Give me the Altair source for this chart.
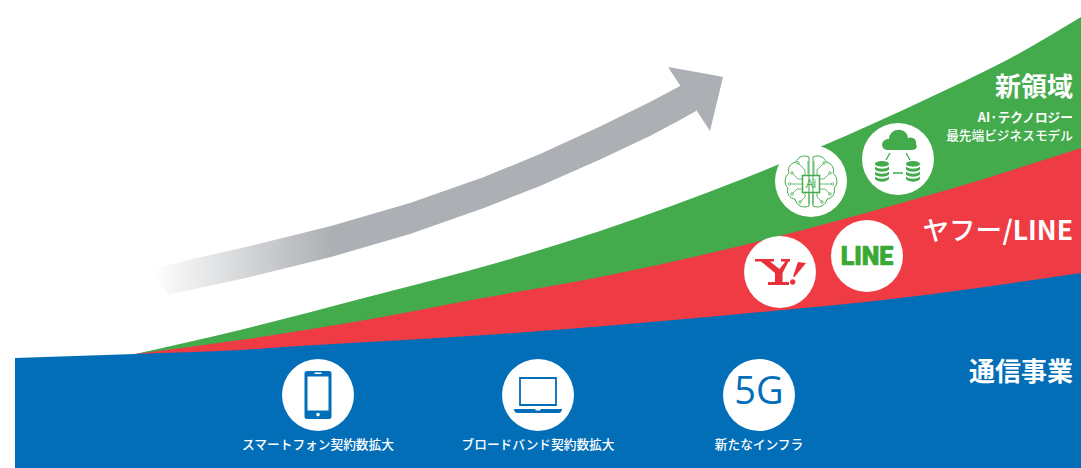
import altair as alt
import pandas as pd

BLUE = "#036EB8"
RED = "#EF3B44"
GREEN = "#43AB4B"
GREY = "#ACAFB3"
JP = "Noto Sans CJK JP"

# Upper edge of each revenue band across the timeline
blue_x = [15, 135, 240, 300, 500, 640, 730, 900, 1081]
blue_top = [358, 354, 350, 346, 334, 323, 315, 298, 273]
red_x = [135, 240, 360, 477, 600, 740, 840, 940, 1081]
red_top = [354, 340, 321, 299, 277, 246, 220, 192, 148]
green_x = [135, 240, 360, 500, 600, 740, 850, 950, 1007, 1081]
green_top = [354, 330, 299, 262, 231, 180, 134, 88, 60, 17]

# Growth arrow: shaft edges and head outline
shaft_x = [153, 167, 250, 331, 410, 484, 540, 599, 650, 680, 696]
shaft_top = [268, 265, 246, 226, 203, 177, 154, 127, 102, 86, 77]
shaft_bottom = [268, 295, 277, 257, 234, 208, 186, 160, 136, 120, 111]
head_x = [668, 710, 723]
head_top = [67, 74.6, 77]
head_bottom = [67, 131, 77]

# White badges
badge_x = [318, 538, 759, 811, 898, 780, 867]
badge_y = [395, 395, 395, 181, 159, 272, 256]

# Text labels
labels = ["新領域", "AI·テクノロジー", "最先端ビジネスモデル", "/LINE", "通信事業"]
label_y = [88, 118, 136, 232, 373]
label_size = [26, 12.7, 12.7, 26.5, 26]
label_weight = [700, 700, 500, 700, 700]
captions = ["スマートフォン契約数拡大", "ブロードバンド契約数拡大", "新たなインフラ"]
caption_x = [318, 538, 759]
caption_y = [445, 445, 445]

X = alt.X("x:Q", scale=alt.Scale(domain=[0, 1081], nice=False, zero=False), axis=None)
Y = alt.Y("y:Q", scale=alt.Scale(domain=[468, 0], nice=False, zero=False), axis=None)


def band(xs, tops, color, bottom=468):
    df = pd.DataFrame({"x": xs, "y": tops, "y2": [bottom] * len(xs)})
    return alt.Chart(df).mark_area(color=color, interpolate="monotone").encode(
        x=X, y=Y, y2="y2:Q"
    )


def glyph(path, cx, cy, color, filled=True, width=1.0):
    """Icon path written in pixel offsets; size 4 makes the symbol unit one pixel."""
    df = pd.DataFrame({"x": [cx], "y": [cy]})
    kw = dict(shape=path, size=4, opacity=1)
    if filled:
        mark = alt.Chart(df).mark_point(filled=True, color=color, strokeWidth=0, **kw)
    else:
        mark = alt.Chart(df).mark_point(filled=False, color=color, strokeWidth=width, **kw)
    return mark.encode(x=X, y=Y)


def text(value, cx, cy, size, color="white", weight=700, align="center", font=JP, **extra):
    df = pd.DataFrame({"x": [cx], "y": [cy], "t": [value]})
    return alt.Chart(df).mark_text(
        fontSize=size, color=color, fontWeight=weight, align=align, baseline="middle", font=font, **extra
    ).encode(x=X, y=Y, text="t:N")


def ring(x, y, r=1.3):
    return f"M{x - r},{y} A{r},{r} 0 1 0 {x + r},{y} A{r},{r} 0 1 0 {x - r},{y} Z "


layers = []

# Growth arrow with a fading tail
shaft_df = pd.DataFrame({"x": shaft_x, "y": shaft_top, "y2": shaft_bottom})
tail = alt.Gradient(
    gradient="linear",
    x1=0, x2=1, y1=0, y2=0,
    stops=[
        alt.GradientStop(color="#FFFFFF", offset=0),
        alt.GradientStop(color=GREY, offset=0.33),
        alt.GradientStop(color=GREY, offset=1),
    ],
)
layers.append(alt.Chart(shaft_df).mark_area(color=tail).encode(x=X, y=Y, y2="y2:Q"))
head_df = pd.DataFrame({"x": head_x, "y": head_top, "y2": head_bottom})
layers.append(alt.Chart(head_df).mark_area(color=GREY).encode(x=X, y=Y, y2="y2:Q"))

# Revenue bands, back to front
layers.append(band(green_x, green_top, GREEN))
layers.append(band(red_x, red_top, RED))
layers.append(band(blue_x, blue_top, BLUE))

# Badges
badge_df = pd.DataFrame({"x": badge_x, "y": badge_y})
layers.append(alt.Chart(badge_df).mark_point(
    filled=True, color="white", size=5184, opacity=1, strokeWidth=0, shape="circle"
).encode(x=X, y=Y))

# Smartphone
phone = (
    "M-11,-24 H11 Q13.5,-24 13.5,-21.5 V21.5 Q13.5,24 11,24 H-11 Q-13.5,24 -13.5,21.5 V-21.5 Q-13.5,-24 -11,-24 Z"
)
layers.append(glyph(phone, 318, 395, BLUE))
layers.append(glyph("M-10.5,-18.5 H10.5 V15.5 H-10.5 Z M-3.5,-22.5 H3.5 V-21 H-3.5 Z", 318, 395, "white"))
layers.append(glyph("M-1.8,19.5 A1.8,1.8 0 1 0 1.8,19.5 A1.8,1.8 0 1 0 -1.8,19.5 Z", 318, 395, "white"))

# Laptop
layers.append(glyph("M-18,-17 H18 V10 H-18 Z", 538, 395, BLUE, filled=False, width=1.8))
layers.append(glyph("M-24,14 H-3 L-2,15.5 H2 L3,14 H24 Q24,17 21,18 H-21 Q-24,17 -24,14 Z", 538, 395, BLUE))

# 5G
layers.append(text("5G", 759, 393, 38, color=BLUE, weight=400, font="Open Sans"))

# AI brain
brain = (
    "M-2,-27 C-8,-30 -14,-26 -15,-22 C-21,-21 -24,-15 -22,-11 C-27,-7 -27,1 -23,4 C-25,9 -21,15 -16,15 "
    "C-15,21 -8,25 -2,22 Z "
    "M2,-27 C8,-30 14,-26 15,-22 C21,-21 24,-15 22,-11 C27,-7 27,1 23,4 C25,9 21,15 16,15 "
    "C15,21 8,25 2,22 Z"
)
circuits = (
    "M-6,-9 V-14 L-12,-20 M-3,-9 V-23 M3,-9 V-23 M6,-9 V-14 L12,-20 "
    "M-9,-5 H-13 L-18,-10 M9,-5 H13 L18,-10 "
    "M-9,0 H-20 M9,0 H20 "
    "M-9,5 H-14 L-18,9 M9,5 H14 L18,9 "
    "M-6,9 V13 L-10,17 M6,9 V13 L10,17 "
    "M-2,9 V20 M2,9 V20 "
)
terminals = "".join(
    ring(px, py)
    for px, py in [
        (-13, -21), (13, -21), (-19, -11), (19, -11), (-21.5, 0), (21.5, 0),
        (-19, 10), (19, 10), (-11, 18), (11, 18),
    ]
)
layers.append(glyph(brain, 811, 184, GREEN, filled=False, width=1))
layers.append(glyph(circuits + terminals, 811, 184, GREEN, filled=False, width=0.8))
layers.append(glyph("M-8.5,-8.5 H8.5 V8.5 H-8.5 Z", 811, 184, GREEN, filled=False, width=1.5))
layers.append(text("Ai", 811, 183.5, 12, color=GREEN, weight=400, font="Open Sans"))

# Cloud and databases
layers.append(glyph(
    "M-10,-9 C-18,-9 -18,-20 -9,-20 C-8,-32 9,-32 10,-21 C15,-23 19,-19 18,-15 C20,-12 18,-9 14,-9 Z",
    898, 159, GREEN,
))
layers.append(glyph("M-8,-6 L-12,1 M8,-6 L12,1 M-5,14 H5", 898, 159, GREEN, filled=False, width=1.4))
cylinder = (
    "M-7,-8 C-7,-12 7,-12 7,-8 C7,-4.5 -7,-4.5 -7,-8 Z "
    "M-7,-5.5 C-4,-2.5 4,-2.5 7,-5.5 V-2.5 C4,0.5 -4,0.5 -7,-2.5 Z "
    "M-7,-0.5 C-4,2.5 4,2.5 7,-0.5 V2.5 C4,5.5 -4,5.5 -7,2.5 Z "
    "M-7,4.5 C-4,7.5 4,7.5 7,4.5 V7 C4,10.5 -4,10.5 -7,7 Z"
)
layers.append(glyph(cylinder, 882, 172, GREEN))
layers.append(glyph(cylinder, 913, 172, GREEN))

# Y!
yahoo = (
    "M-25,-13 H-6 V-10.5 H-10 L-0.5,-3 L5.5,-10.5 H1 V-13 H10 V-10.5 H8.5 L2.5,1 V10 H9 V13 H-12 V10 H-5 V1 "
    "L-19,-10.5 H-25 Z "
    "M18,-10 L26,-9 L14.5,5 L13,4.5 Z "
    "M10,10 A2.7,2.7 0 1 0 15.4,10 A2.7,2.7 0 1 0 10,10 Z"
)
layers.append(glyph(yahoo, 780, 272, "#E8303A"))

# LINE
layers.append(text("LINE", 867, 256.5, 25, color="#3AAA35", weight=900, font="Roboto",
                   stroke="#3AAA35", strokeWidth=0.7))

# Right-hand labels
for value, cy, size, weight in zip(labels, label_y, label_size, label_weight):
    layers.append(text(value, 1073, cy, size, weight=weight, align="right"))
layers.append(text("ヤフー", 1002, 232, 26.5, weight=500, align="right"))

# Captions under the blue badges
for value, cx, cy in zip(captions, caption_x, caption_y):
    layers.append(text(value, cx, cy, 12.7, weight=500))

chart = alt.layer(*layers).properties(
    width=1081, height=468, padding=0, background="white"
).configure_view(strokeWidth=0)

chart.save("out.html", embed_options={"renderer": "svg", "actions": False})
